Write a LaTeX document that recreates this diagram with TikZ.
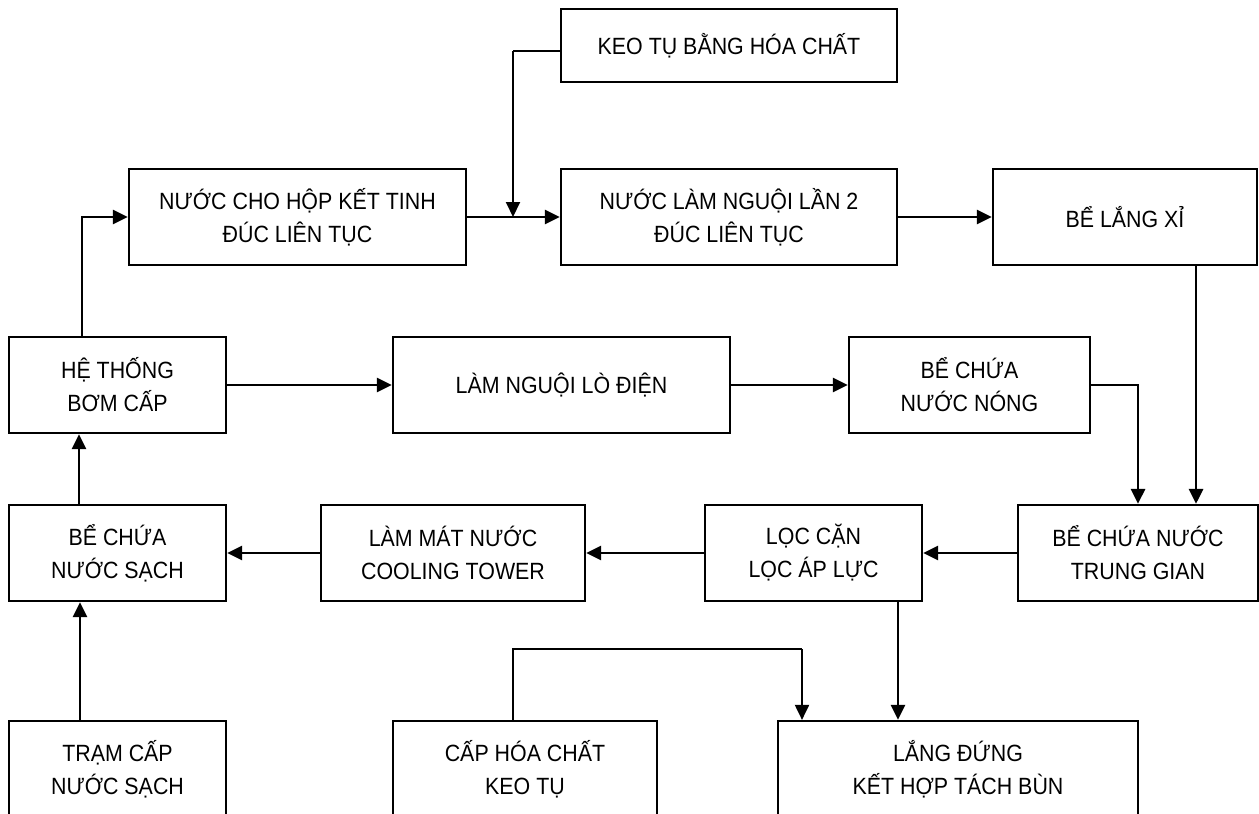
\documentclass[tikz,border=0pt]{standalone}
\usepackage{fontspec}
\setmainfont[FakeStretch=0.91]{Liberation Sans}
\usetikzlibrary{arrows.meta}
\begin{document}
\begin{tikzpicture}[x=1pt,y=-1pt,
  box/.style={draw,line width=2.2pt,inner sep=0pt,align=center,
    font=\fontsize{23.5}{33}\selectfont},
  flow/.style={line width=2.8pt,-{Triangle[length=15pt,width=14pt]}},
  thinflow/.style={line width=2pt,-{Triangle[length=15pt,width=14pt]}},
  thinline/.style={line width=2pt}]
\useasboundingbox (0,0) rectangle (1259,814);
\clip (0,0) rectangle (1259,814);
% boxes
\node[box,minimum width=336pt,minimum height=73pt] (keo) at (729,45.5) {KEO TỤ BẰNG HÓA CHẤT};
\node[box,minimum width=337pt,minimum height=96pt] (ncho) at (297.5,217) {NƯỚC CHO HỘP KẾT TINH\\ĐÚC LIÊN TỤC};
\node[box,minimum width=336pt,minimum height=96pt] (nln) at (729,217) {NƯỚC LÀM NGUỘI LẦN 2\\ĐÚC LIÊN TỤC};
\node[box,minimum width=264pt,minimum height=96pt] (blx) at (1125,217) {BỂ LẮNG XỈ};
\node[box,minimum width=217pt,minimum height=96pt] (ht) at (117.5,385) {HỆ THỐNG\\BƠM CẤP};
\node[box,minimum width=337pt,minimum height=96pt] (lnld) at (561.5,385) {LÀM NGUỘI LÒ ĐIỆN};
\node[box,minimum width=241pt,minimum height=96pt] (bcnn) at (969.5,385) {BỂ CHỨA\\NƯỚC NÓNG};
\node[box,minimum width=217pt,minimum height=96pt] (bcns) at (117.5,553) {BỂ CHỨA\\NƯỚC SẠCH};
\node[box,minimum width=264pt,minimum height=96pt] (lmn) at (453,553) {LÀM MÁT NƯỚC\\COOLING TOWER};
\node[box,minimum width=217pt,minimum height=96pt] (lc) at (813.5,553) {LỌC CẶN\\LỌC ÁP LỰC};
\node[box,minimum width=240pt,minimum height=96pt] (bctg) at (1138,553) {BỂ CHỨA NƯỚC\\TRUNG GIAN};
\node[box,minimum width=217pt,minimum height=96pt] (tram) at (117.5,769) {TRẠM CẤP\\NƯỚC SẠCH};
\node[box,minimum width=264pt,minimum height=96pt] (cap) at (525,769) {CẤP HÓA CHẤT\\KEO TỤ};
\node[box,minimum width=360pt,minimum height=96pt] (lang) at (958,769) {LẮNG ĐỨNG\\KẾT HỢP TÁCH BÙN};
% helper coordinates
\coordinate (keoL) at (561,51);
\coordinate (keoC) at (513,51);
\coordinate (joinA) at (513,217);
\coordinate (capC) at (513,649);
\coordinate (capR) at (802,649);
\coordinate (bcnnC) at (1138,385);
% connectors
\draw[thinline] (keoL) -- (keoC);
\draw[thinflow] (keoC) -- (joinA);
\draw[flow] (ncho.east) -- (nln.west);
\draw[flow] (nln.east) -- (blx.west);
\draw[flow] (blx.south -| 1196,0) -- (bctg.north -| 1196,0);
\draw[flow] (ht.north -| 82,0) |- (ncho.west);
\draw[flow] (ht.east) -- (lnld.west);
\draw[flow] (lnld.east) -- (bcnn.west);
\draw[flow] (bcnn.east) -- (bcnnC) -- (bctg.north -| bcnnC);
\draw[flow] (bctg.west) -- (lc.east);
\draw[flow] (lc.west) -- (lmn.east);
\draw[flow] (lmn.west) -- (bcns.east);
\draw[flow] (bcns.north -| 79,0) -- (ht.south -| 79,0);
\draw[flow] (tram.north -| 80,0) -- (bcns.south -| 80,0);
\draw[flow] (lc.south -| 898,0) -- (lang.north -| 898,0);
\draw[thinline] (cap.north -| capC) -- (capC) -- (capR);
\draw[thinflow] (capR) -- (lang.north -| capR);
\end{tikzpicture}
\end{document}
